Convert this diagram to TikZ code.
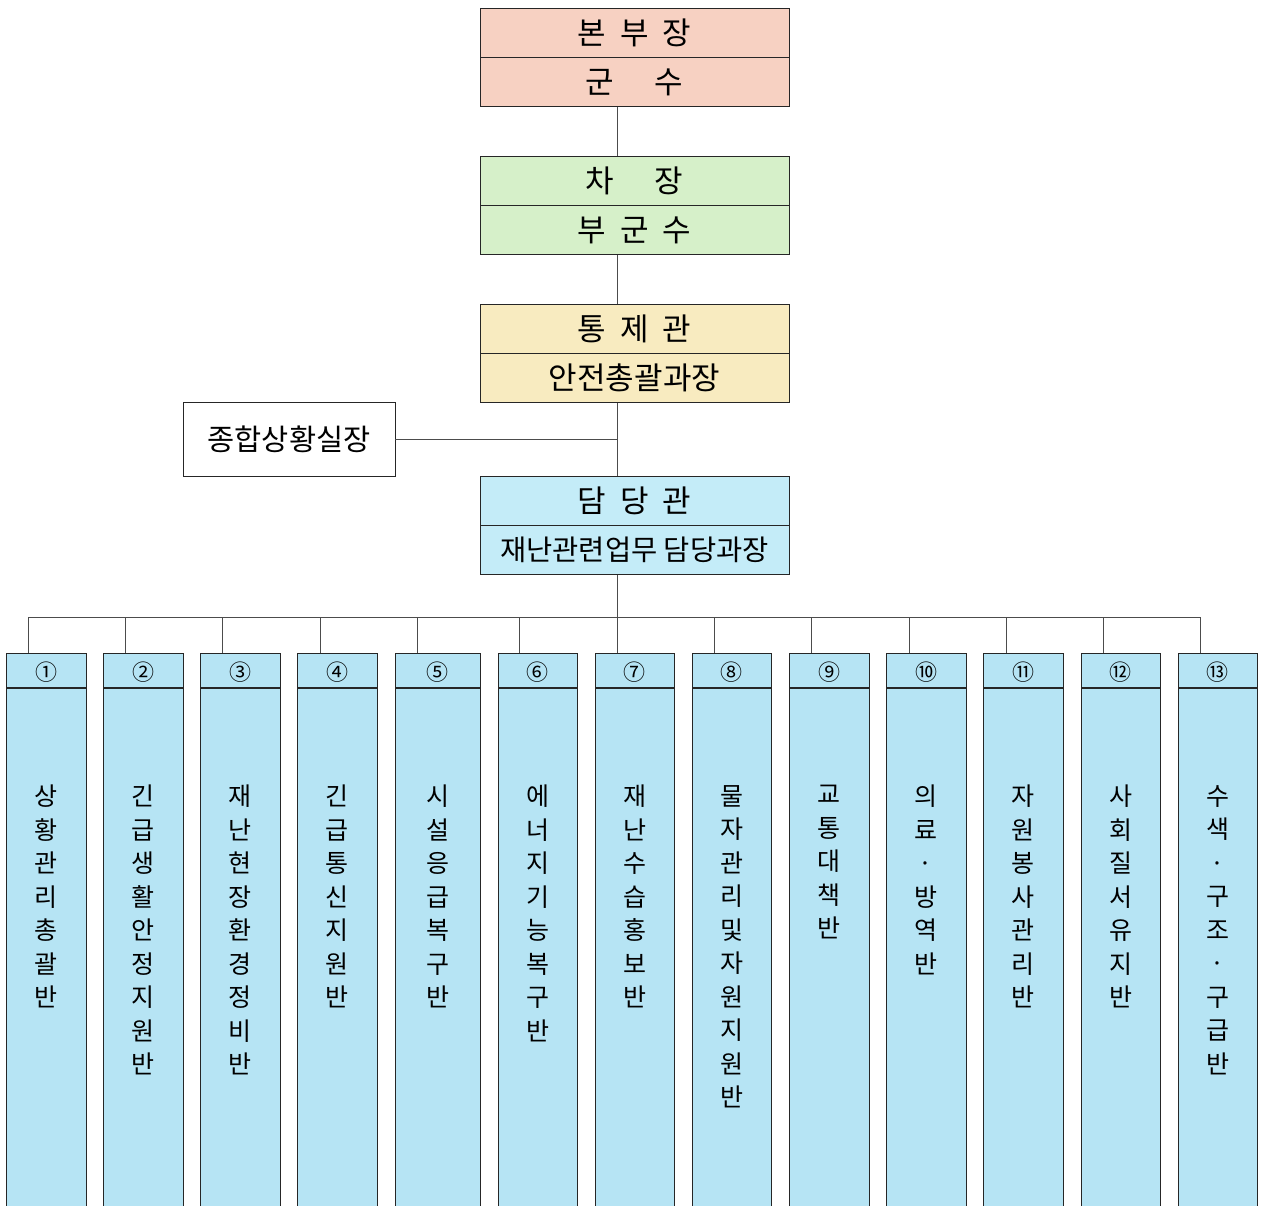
\documentclass[tikz,border=0pt]{standalone}
\usepackage{fontspec}
\setmainfont{Noto Sans CJK KR}
\definecolor{hqc}{HTML}{F7D1C2}
\definecolor{vcc}{HTML}{D6F0C9}
\definecolor{ctc}{HTML}{F8EBC0}
\definecolor{dmc}{HTML}{C4ECF8}
\definecolor{colc}{HTML}{B6E4F4}
\begin{document}
\begin{tikzpicture}[x=1pt,y=-1pt,
  box/.style={draw=black!85,line width=0.9pt,minimum width=309pt,minimum height=49pt,inner sep=0pt,font=\fontsize{31}{33}\selectfont},
  sitbox/.style={draw=black!85,line width=0.9pt,minimum width=212pt,minimum height=74pt,inner sep=0pt,fill=white,font=\fontsize{29.5}{31}\selectfont},
  colbox/.style={draw=black!85,line width=0.9pt,fill=colc,inner sep=0pt},
  numtext/.style={font=\fontsize{22}{24}\selectfont,inner sep=0pt},
  coltext/.style={font=\fontsize{25}{33.5}\selectfont,align=center,inner sep=0pt,anchor=north},
  link/.style={draw=black!70,line width=0.9pt}]
\useasboundingbox (0,0) rectangle (1261,1205);
\coordinate (spine) at (617,0);
% top boxes
\node[box,fill=hqc] (hq1) at (634.5,33) {본\hspace{14pt}부\hspace{14pt}장};
\node[box,fill=hqc] (hq2) at (634.5,82) {군\hspace{41pt}수};
\node[box,fill=vcc] (vc1) at (634.5,181) {차\hspace{41pt}장};
\node[box,fill=vcc] (vc2) at (634.5,230) {부\hspace{14pt}군\hspace{14pt}수};
\node[box,fill=ctc] (ct1) at (634.5,329) {통\hspace{14pt}제\hspace{14pt}관};
\node[box,fill=ctc] (ct2) at (634.5,378) {안전총괄과장};
\node[box,fill=dmc] (dm1) at (634.5,501) {담\hspace{14pt}당\hspace{14pt}관};
\node[box,fill=dmc,font=\fontsize{28.5}{30}\selectfont] (dm2) at (634.5,550) {재난관련업무 담당과장};
\node[sitbox] (sit) at (289,439) {종합상황실장};
% spine links
\draw[link] (hq2.south -| spine) -- (vc1.north -| spine);
\draw[link] (vc2.south -| spine) -- (ct1.north -| spine);
\draw[link] (ct2.south -| spine) -- (dm1.north -| spine);
\draw[link] (sit.east) -- (sit.east -| spine);
\coordinate (bus) at (617,617);
\draw[link] (dm2.south -| spine) -- (bus);
% columns
\foreach \i/\l/\r/\d/\n/\t in {
  1/6/86/28/①/{상\\황\\관\\리\\총\\괄\\반},
  2/103/183/125/②/{긴\\급\\생\\활\\안\\정\\지\\원\\반},
  3/200/280/222/③/{재\\난\\현\\장\\환\\경\\정\\비\\반},
  4/297/377/320/④/{긴\\급\\통\\신\\지\\원\\반},
  5/395/480/417/⑤/{시\\설\\응\\급\\복\\구\\반},
  6/498/577/519/⑥/{에\\너\\지\\기\\능\\복\\구\\반},
  7/595/674/617/⑦/{재\\난\\수\\습\\홍\\보\\반},
  8/692/771/714/⑧/{물\\자\\관\\리\\및\\자\\원\\지\\원\\반},
  9/789/869/811/⑨/{교\\통\\대\\책\\반},
  10/886/966/909/⑩/{의\\료\\·\\방\\역\\반},
  11/983/1063/1006/⑪/{자\\원\\봉\\사\\관\\리\\반},
  12/1081/1160/1103/⑫/{사\\회\\질\\서\\유\\지\\반},
  13/1178/1257/1200/⑬/{수\\색\\·\\구\\조\\·\\구\\급\\반}} {
  \pgfmathsetmacro{\cx}{(\l+\r)/2}
  \pgfmathsetmacro{\w}{\r-\l}
  \node[colbox,minimum width=\w pt,minimum height=34.7pt] (h\i) at (\cx,670.35) {};
  \node[numtext] (n\i) at ([yshift=-1.5pt]h\i.center) {\n};
  \node[colbox,minimum width=\w pt,minimum height=530pt,anchor=north] (b\i) at (h\i.south) {};
  \node[coltext] (t\i) at (\cx,785) {\t};
  \coordinate (d\i) at (\d,617);
  \draw[link] (d\i) -- (d\i |- h\i.north);
}
\draw[link] (d1) -- (d13);
\end{tikzpicture}
\end{document}
